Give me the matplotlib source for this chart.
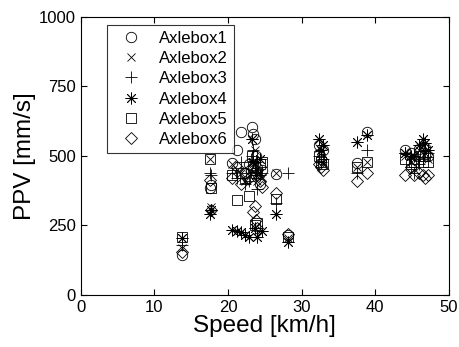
import matplotlib
matplotlib.use("Agg")
import matplotlib.pyplot as plt

plt.rcParams['font.family'] = ['Liberation Sans', 'DejaVu Sans']

# speed of each run [km/h], shared by all six axleboxes
speed = [13.7, 17.6, 17.7, 20.5, 21.2, 21.8, 22.3, 22.8, 23.2, 23.4,
         23.6, 23.8, 24.0, 24.3, 24.6, 26.5, 28.1, 32.3, 32.6, 32.9,
         37.5, 38.9, 44.0, 44.8, 45.3, 46.0, 46.5, 46.8, 47.2]

# peak particle velocity [mm/s] per axlebox
axlebox1 = [145, 385, 395, 475, 520, 585, 440, 470, 605, 580,
            560, 500, 455, 400, 450, 435, 215, 540, 490, 520,
            475, 585, 520, 510, 490, 525, 510, 530, 500]
axlebox2 = [170, 490, 315, 470, 450, 440, 410, 430, 480, 470,
            520, 450, 410, 440, 420, 440, 205, 530, 510, 480,
            460, 480, 500, 480, 500, 520, 540, 510, 490]
axlebox3 = [178, 440, 430, 440, 420, 480, 400, 410, 500, 520,
            450, 480, 380, 430, 440, 330, 440, 500, 480, 490,
            440, 520, 510, 460, 440, 470, 490, 520, 510]
axlebox4 = [205, 290, 305, 235, 230, 225, 215, 210, 560, 480,
            240, 430, 210, 490, 230, 290, 190, 560, 520, 540,
            550, 575, 510, 500, 500, 540, 560, 545, 520]
axlebox5 = [210, 490, 385, 430, 340, 440, 420, 355, 500, 460,
            250, 440, 260, 470, 480, 345, 210, 500, 480, 470,
            460, 480, 490, 470, 480, 500, 480, 500, 480]
axlebox6 = [155, 415, 305, 420, 460, 400, 440, 420, 460, 300,
            320, 270, 240, 410, 390, 365, 220, 470, 460, 450,
            410, 440, 430, 460, 430, 440, 430, 420, 430]

labels = ['Axlebox1', 'Axlebox2', 'Axlebox3', 'Axlebox4', 'Axlebox5', 'Axlebox6']
# circle, x, plus, 8-arm asterisk, square, diamond
markers = ['o', 'x', '+', (8, 2, 0), 's', 'D']
sizes = [7.5, 6, 8.5, 8.5, 6.5, 6]

fig = plt.figure(figsize=(4.59, 3.47), dpi=100)
ax = fig.add_axes([0.176, 0.150, 0.802, 0.801])

series = [axlebox1, axlebox2, axlebox3, axlebox4, axlebox5, axlebox6]
for vals, lab, m, ms in zip(series, labels, markers, sizes):
    ax.plot(speed, vals, linestyle='none', marker=m, markersize=ms,
            markerfacecolor='none', markeredgecolor='black',
            markeredgewidth=0.6, label=lab)

ax.set_xlim(0, 50)
ax.set_ylim(0, 1000)
ax.set_xticks([0, 10, 20, 30, 40, 50])
ax.set_yticks([0, 250, 500, 750, 1000])
ax.tick_params(direction='in', top=True, right=True, labelsize=12, length=4)
ax.set_xlabel('Speed [km/h]', fontsize=17.5, labelpad=0)
ax.set_ylabel('PPV [mm/s]', fontsize=17.5, labelpad=2)

leg = ax.legend(loc='upper left', bbox_to_anchor=(0.07, 0.972), fontsize=12,
                frameon=True, fancybox=False, edgecolor='black',
                borderpad=0.35, labelspacing=0.32, handletextpad=0.6,
                handlelength=2.2, borderaxespad=0)
leg.get_frame().set_linewidth(0.8)

fig.savefig('out.png', dpi=100)
